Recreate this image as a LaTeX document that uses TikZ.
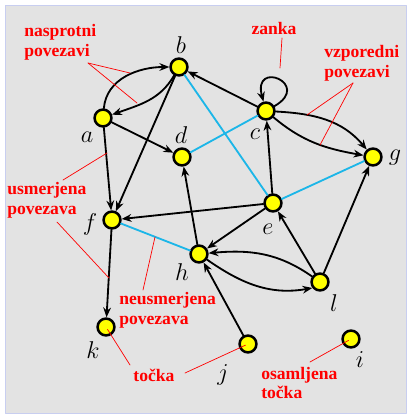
\documentclass[tikz,border=0pt]{standalone}
\usepackage{fontspec}
\newfontfamily\notefont{Liberation Serif}
\usepackage{xcolor}
\usepackage{tikz}
\usetikzlibrary{arrows.meta}
\definecolor{grPaper}{HTML}{E3E3E3}
\definecolor{grFrame}{HTML}{C8CEF0}
\definecolor{grCyan}{HTML}{1CB6E8}
\definecolor{grNote}{HTML}{FF0000}
\definecolor{grDot}{HTML}{FFFF00}
\tikzset{
  gr diagram/.style={x=0.025cm, y=-0.025cm, line cap=round, line join=round},
  gr vertex/.style={circle, draw=black, fill=grDot, line width=1.8pt,
    minimum size=12pt, inner sep=0pt},
  gr name/.style={font=\fontsize{17}{17}\selectfont, inner sep=0pt},
  gr arc/.style={-{Stealth[length=7pt,width=5.5pt]}, line width=1.3pt},
  gr edge/.style={draw=grCyan, line width=1.3pt},
  gr note/.style={font=\fontsize{12.5}{14}\selectfont\notefont\bfseries, text=grNote,
    align=left, inner sep=0pt},
  gr pointer/.style={draw=grNote, line width=0.5pt}
}

\begin{document}
\begin{tikzpicture}[gr diagram]
\useasboundingbox (0,0) rectangle (411,415);
\draw[draw=grFrame, fill=grPaper, line width=0.6pt] (5,5) rectangle (406,413);
% vertices and their names
\foreach \n/\x/\y/\lx/\ly in {a/103/118/87/137, b/179/67/181/45, c/266/111/255/134,
    d/182/157/181/135, e/273/203/268/229, f/112/220/90/224, g/373/157/395/158,
    h/199/254/182/272, i/351/339/360/360, j/248/344/223/375, k/106/327/93/350,
    l/320/282/334/303}{
  \node[gr vertex] (\n) at (\x,\y) {};
  \node[gr name] (\n name) at (\lx,\ly) {$\n$};
}
% directed edges
\foreach \s/\t in {a/d, a/f, b/f, c/b, e/c, e/f, e/h, h/d, f/k, l/e, l/g, j/h}
  \draw[gr arc] (\s) -- (\t);
\draw[gr arc] (a) to[out=85,in=180] (b);
\draw[gr arc] (b) to[out=240,in=20] (a);
\draw[gr arc] (c) to[out=30,in=105,min distance=11mm] (c);
\draw[gr arc] (c) to[out=-3,in=130] (g);
\draw[gr arc] (c) to[out=-40,in=170] (g);
\draw[gr arc] (l) to[out=145,in=5] (h);
\draw[gr arc] (h) to[out=-35,in=190] (l.218);
% undirected edges
\foreach \s/\t in {b/e, c/d, e/g, f/h}
  \draw[gr edge] (\s) -- (\t);
% notes
\node[gr note, anchor=west] (nasp) at (24,42) {nasprotni\\povezavi};
\node[gr note] (zanka) at (274,28) {zanka};
\node[gr note, anchor=west] (vzp) at (324,63) {vzporedni\\povezavi};
\node[gr note, anchor=west] (usm) at (7,200) {usmerjena\\povezava};
\node[gr note, anchor=west] (neusm) at (119,310) {neusmerjena\\povezava};
\node[gr note] (tocka) at (154,375) {točka};
\node[gr note, anchor=west] (osaml) at (261,383) {osamljena\\točka};
% pointer ends
\coordinate (nasp foot) at (88,63);
\coordinate (nasp ab) at (130,73);
\coordinate (nasp ba) at (137,103);
\coordinate (zanka foot) at (282,38);
\coordinate (zanka loop) at (280,68);
\coordinate (vzp foot) at (353,83);
\coordinate (vzp up) at (307,115);
\coordinate (vzp down) at (320,145);
\coordinate (usm top) at (63,180);
\coordinate (usm af) at (107,153);
\coordinate (usm bot) at (57,222);
\coordinate (usm fk) at (109,278);
\coordinate (neusm top) at (143,290);
\coordinate (neusm fh) at (155,237);
\coordinate (tocka left) at (130,365);
\coordinate (tocka right) at (185,373);
\coordinate (osaml top) at (310,362);
% pointers
\draw[gr pointer] (nasp foot) -- (nasp ab);
\draw[gr pointer] (nasp foot) -- (nasp ba);
\draw[gr pointer] (zanka foot) -- (zanka loop);
\draw[gr pointer] (vzp foot) -- (vzp up);
\draw[gr pointer] (vzp foot) -- (vzp down);
\draw[gr pointer] (usm top) -- (usm af);
\draw[gr pointer] (usm bot) -- (usm fk);
\draw[gr pointer] (neusm top) -- (neusm fh);
\draw[gr pointer, shorten >=2pt] (tocka left) -- (k.center);
\draw[gr pointer, shorten >=2pt] (tocka right) -- (j.center);
\draw[gr pointer, shorten >=2pt] (osaml top) -- (i.center);
\end{tikzpicture}
\end{document}
